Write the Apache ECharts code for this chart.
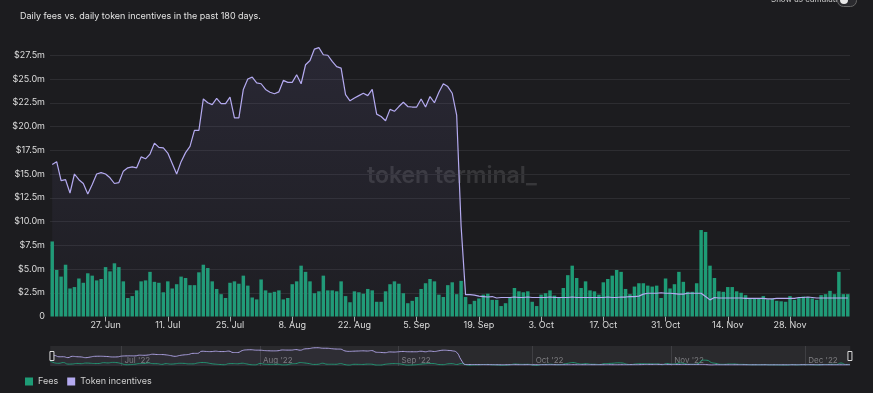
<!DOCTYPE html>
<html>
<head>
<meta charset="utf-8">
<script src="https://cdn.jsdelivr.net/npm/echarts@6/dist/echarts.min.js"></script>
<style>
html,body{margin:0;padding:0;background:#1b1b1e;}
#chart{width:873px;height:393px;}
</style>
</head>
<body>
<div id="chart"></div>
<script>
const startDate = '2022-06-15';
const dayCount = 180;
const monthNames = ['Jan','Feb','Mar','Apr','May','Jun','Jul','Aug','Sep','Oct','Nov','Dec'];

const fees = [
7.9,4.9,4.2,5.45,2.95,3.1,4.0,3.55,4.55,4.3,3.8,3.95,5.2,4.75,5.6,5.2,3.7,1.95,2.15,2.75,
3.7,3.8,4.7,3.65,3.55,2.55,3.7,2.95,3.4,4.2,4.05,3.3,3.3,4.65,5.45,5.1,3.7,2.9,2.35,1.95,
3.55,3.7,3.45,4.3,3.25,2.0,1.8,3.9,2.75,2.5,2.6,2.75,1.8,1.95,3.4,3.7,5.35,4.7,3.7,2.45,
2.65,4.3,2.75,2.75,2.65,3.7,2.15,1.5,2.65,2.55,2.4,2.9,2.75,1.55,1.55,2.65,3.4,3.7,3.45,2.45,
1.4,1.65,2.05,2.9,3.5,3.95,3.7,2.3,2.05,3.3,3.6,2.35,3.75,2.05,1.3,1.65,1.9,2.3,2.4,1.75,
1.75,1.1,1.4,2.05,3.0,2.65,2.55,2.65,1.55,1.1,2.3,2.45,2.75,2.2,2.05,3.0,4.35,5.35,4.05,3.0,
3.7,2.75,2.65,2.3,3.6,3.95,4.3,4.9,4.7,2.9,2.35,3.15,3.5,3.5,3.25,3.15,3.25,1.95,4.0,2.95,
3.4,4.7,3.65,2.6,2.6,3.5,9.1,8.9,5.35,4.05,2.65,2.6,3.1,3.1,2.65,2.5,2.25,1.95,1.95,1.95,
2.15,1.8,1.85,1.65,1.6,1.55,2.15,1.75,1.95,2.1,2.05,1.9,1.75,2.25,2.35,2.7,2.35,4.7,2.35,2.35
];

const tokenIncentives = [
16.0,16.3,14.3,14.4,13.0,15.0,14.4,14.0,12.9,13.9,15.0,15.15,15.0,14.6,14.0,14.1,15.3,15.65,15.75,15.65,
16.8,16.6,17.1,18.25,17.8,17.75,17.2,16.1,15.0,16.3,17.25,17.9,19.6,19.6,22.9,22.5,22.3,22.95,22.4,22.4,
23.1,20.9,20.9,23.9,25.0,25.2,24.6,24.5,23.9,23.6,23.45,23.65,24.85,24.65,24.65,25.45,24.5,26.5,26.95,28.15,
28.3,27.55,27.5,26.85,26.3,26.15,23.35,22.7,23.0,23.25,23.5,23.25,23.9,21.3,21.05,20.6,21.8,21.6,22.1,22.55,
22.1,22.05,22.05,22.9,22.05,23.15,22.5,23.6,24.5,24.2,23.5,21.2,9.5,2.3,2.3,2.25,2.15,2.1,2.05,2.1,
1.95,2.0,2.0,2.0,2.05,2.0,2.0,2.05,2.0,2.0,2.0,2.0,2.05,2.0,2.0,2.0,2.0,2.05,2.0,2.0,
2.0,2.0,2.0,2.0,2.0,2.05,2.0,2.0,2.05,2.05,2.1,2.1,2.15,2.35,2.45,2.45,2.45,2.5,2.45,2.45,
2.4,2.35,2.35,2.45,2.45,2.45,2.45,2.1,1.75,2.0,1.95,1.95,1.95,1.95,1.95,1.95,1.9,1.9,1.9,1.9,
1.9,1.85,1.85,1.9,1.9,1.9,1.9,1.9,2.0,2.0,2.05,2.0,1.95,1.95,1.95,1.95,1.95,1.95,1.95,1.95
];

const yTickStep = 2.5;
const yMax = 29;

// categories
const dates = [];
{
  const d0 = new Date(startDate + 'T00:00:00Z');
  for (let i = 0; i < dayCount; i++) {
    dates.push(new Date(d0.getTime() + i * 86400000));
  }
}
const categories = dates.map(d => d.toISOString().slice(0,10));
const dayLabel = i => dates[i].getUTCDate() + '. ' + monthNames[dates[i].getUTCMonth()];
const monthLabel = i => monthNames[dates[i].getUTCMonth()] + " '" + String(dates[i].getUTCFullYear()).slice(2);
const showDay = i => i % 14 === 12;
const isMonthStart = i => dates[i].getUTCDate() === 1;

const GREEN = '#1e9c76';
const PURPLE = '#b4aaf0';
const FONT = 'Inter, "Noto Sans", sans-serif';

const chart = echarts.init(document.getElementById('chart'), null, {renderer: 'canvas'});
chart.setOption({
  backgroundColor: '#1c1c1f',
  animation: false,
  textStyle: {fontFamily: FONT},
  title: {
    text: 'Daily fees vs. daily token incentives in the past 180 days.',
    left: 15, top: 7,
    textStyle: {color: '#e2e2e2', fontSize: 9, fontWeight: 'normal', fontFamily: FONT}
  },
  graphic: [
    {type: 'text', left: 771, top: -4, z: 10,
     style: {text: 'Show as cumulative', fill: '#d0d0d0', font: '8px ' + FONT}},
    {type: 'rect', left: 837, top: -6, z: 10,
     shape: {width: 19, height: 12, r: 6},
     style: {fill: '#2a2a2e', stroke: '#666', lineWidth: 1}},
    {type: 'circle', left: 840, top: -4, z: 11,
     shape: {r: 4}, style: {fill: '#e8e8e8'}},
    {type: 'text', left: 367, top: 165, z: 0, silent: true,
     style: {text: 'token terminal_', fill: 'rgba(255,255,255,0.12)', font: '600 23px ' + FONT}}
  ],
  legend: {
    left: 20, top: 372,
    itemWidth: 8, itemHeight: 8, itemGap: 9, icon: 'rect',
    textStyle: {color: '#cfcfcf', fontSize: 9, fontFamily: FONT},
    data: ['Fees', 'Token incentives']
  },
  grid: [
    {left: 50, right: 23, top: 41, bottom: 76.5, containLabel: false},
    {left: 50, right: 23, top: 346, height: 20, show: true, backgroundColor: '#262629', borderWidth: 0}
  ],
  xAxis: [
    {
      type: 'category', gridIndex: 0, data: categories,
      axisLine: {show: false},
      axisTick: {show: true, alignWithLabel: true, length: 5, interval: (i) => showDay(i),
                 lineStyle: {color: '#aaa', width: 1}},
      axisLabel: {interval: (i) => showDay(i), formatter: (v, i) => dayLabel(i),
                  color: '#dcdcdc', fontSize: 9, margin: 4, fontFamily: FONT},
      splitLine: {show: false}
    },
    {
      type: 'category', gridIndex: 1, data: categories, boundaryGap: false,
      axisLine: {show: false}, axisTick: {show: false},
      axisLabel: {inside: true, interval: (i) => isMonthStart(i), formatter: (v, i) => monthLabel(i),
                  color: '#7a7a7e', fontSize: 8, align: 'left', verticalAlign: 'bottom',
                  margin: 1, padding: [0, 0, 0, 3], fontFamily: FONT},
      splitLine: {show: true, interval: (i) => isMonthStart(i), lineStyle: {color: '#3c3c40', width: 1}}
    }
  ],
  yAxis: [
    {
      type: 'value', gridIndex: 0, min: 0, max: yMax, interval: yTickStep,
      axisLine: {show: false}, axisTick: {show: false},
      axisLabel: {showMaxLabel: false, color: '#dcdcdc', fontSize: 9, margin: 5, fontFamily: FONT,
                  formatter: v => v === 0 ? '0' : '$' + v.toFixed(1) + 'm'},
      splitLine: {show: true, showMaxLine: false, showMinLine: false, lineStyle: {color: '#2d2d31', width: 1}}
    },
    {
      type: 'value', gridIndex: 1, min: 0, max: 31, show: false,
      splitLine: {show: false}
    }
  ],
  dataZoom: [{
    type: 'slider', xAxisIndex: [0], start: 0, end: 100,
    left: 50, right: 23, top: 346, height: 20,
    showDataShadow: false, showDetail: false, brushSelect: false,
    backgroundColor: 'rgba(0,0,0,0)', borderColor: 'rgba(0,0,0,0)',
    fillerColor: 'rgba(255,255,255,0.02)',
    moveHandleSize: 0,
    handleIcon: 'path://M0,0 L4,0 L4,9 L0,9 Z',
    handleSize: 9,
    handleStyle: {color: '#1c1c1f', borderColor: '#dddddd', borderWidth: 1}
  }],
  series: [
    {
      name: 'Fees', type: 'bar', xAxisIndex: 0, yAxisIndex: 0,
      data: fees, color: GREEN, barCategoryGap: '22%',
      itemStyle: {color: GREEN}, z: 2
    },
    {
      name: 'Token incentives', type: 'line', xAxisIndex: 0, yAxisIndex: 0,
      data: tokenIncentives, color: PURPLE, showSymbol: false, symbol: 'none',
      lineStyle: {color: PURPLE, width: 1.2},
      areaStyle: {color: new echarts.graphic.LinearGradient(0, 0, 0, 1, [
        {offset: 0, color: 'rgba(120,110,180,0.20)'},
        {offset: 1, color: 'rgba(120,110,180,0.04)'}
      ])},
      z: 3
    },
    {
      name: 'Fees', type: 'line', xAxisIndex: 1, yAxisIndex: 1,
      data: fees, smooth: true, showSymbol: false, symbol: 'none', silent: true,
      lineStyle: {color: GREEN, width: 1, opacity: 0.9}, color: GREEN
    },
    {
      name: 'Token incentives', type: 'line', xAxisIndex: 1, yAxisIndex: 1,
      data: tokenIncentives, smooth: true, showSymbol: false, symbol: 'none', silent: true,
      lineStyle: {color: '#a79cdc', width: 1}, color: PURPLE,
      areaStyle: {color: 'rgba(120,110,180,0.08)'}
    }
  ]
});
</script>
</body>
</html>
